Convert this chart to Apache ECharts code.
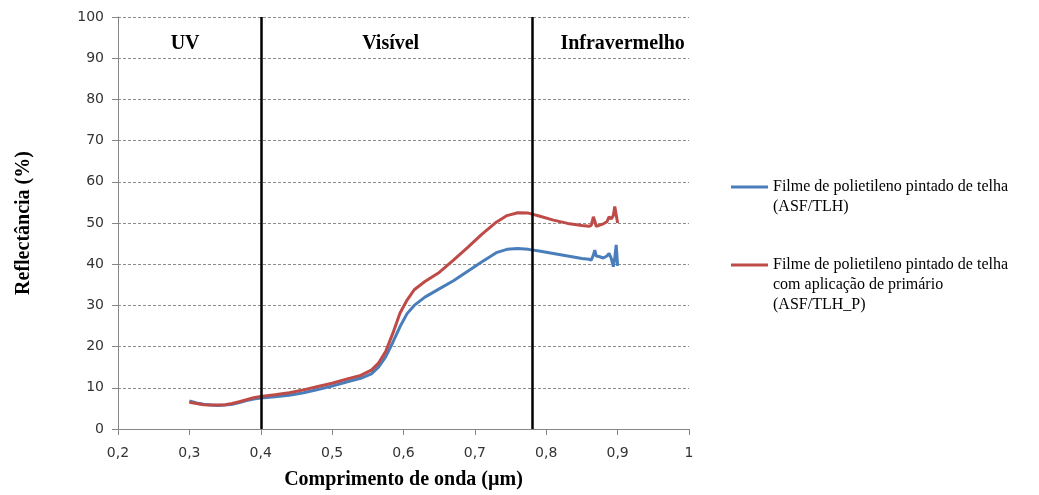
<!DOCTYPE html>
<html>
<head>
<meta charset="utf-8">
<script src="https://cdn.jsdelivr.net/npm/echarts@6/dist/echarts.min.js"></script>
<style>html,body{margin:0;padding:0;background:#fff;}#c{width:1039px;height:495px;}</style>
</head>
<body>
<div id="c"></div>
<script>
// Wavelength (µm)
const wavelength = [0.300,0.310,0.320,0.330,0.340,0.350,0.360,0.370,0.380,0.390,0.400,0.420,0.440,0.460,0.480,0.500,0.520,0.540,0.555,0.565,0.575,0.585,0.595,0.605,0.615,0.630,0.650,0.670,0.690,0.710,0.730,0.745,0.760,0.775,0.790,0.810,0.830,0.850,0.860,0.863,0.866,0.868,0.870,0.875,0.880,0.885,0.888,0.891,0.894,0.896,0.898,0.900];
// Reflectância (%) - Filme de polietileno pintado de telha (ASF/TLH)
const asfTlh = [6.8,6.3,6.0,5.8,5.7,5.8,6.0,6.4,6.9,7.3,7.5,7.8,8.2,8.8,9.6,10.4,11.4,12.3,13.4,15.0,17.5,21.0,24.8,28.0,30.0,32.0,34.0,36.0,38.3,40.6,42.8,43.6,43.8,43.6,43.2,42.6,42.0,41.4,41.2,41.0,42.2,43.4,42.0,41.8,41.5,42.0,42.6,41.5,39.4,41.5,44.7,39.6];
// Reflectância (%) - com aplicação de primário (ASF/TLH_P)
const asfTlhP = [6.5,6.2,5.9,5.8,5.8,5.9,6.2,6.6,7.1,7.6,7.9,8.3,8.8,9.5,10.3,11.1,12.1,13.0,14.3,16.0,18.8,23.2,28.1,31.3,33.8,35.8,38.0,41.0,44.1,47.3,50.2,51.8,52.5,52.4,51.7,50.7,49.9,49.4,49.2,49.4,51.5,50.5,49.2,49.5,49.8,50.3,51.5,51.0,51.8,54.0,52.0,50.0];
const regionLines = [0.4, 0.78];
const regionNames = ['UV', 'Visível', 'Infravermelho'];
const regionLabelX = [0.294, 0.582, 0.907];
const seriesNames = [
  'Filme de polietileno pintado de telha\n(ASF/TLH)',
  'Filme de polietileno pintado de telha\ncom aplicação de primário\n(ASF/TLH_P)'
];

const chart = echarts.init(document.getElementById('c'));
const pair = (ys) => wavelength.map((x, i) => [x, ys[i]]);
const serif = 'Liberation Serif';
const sans = 'DejaVu Sans';

const option = {
  animation: false,
  backgroundColor: '#fff',
  grid: { left: 118, right: 350, top: 17, bottom: 66 },
  xAxis: {
    type: 'value', min: 0.2, max: 1, interval: 0.1,
    name: 'Comprimento de onda (µm)', nameLocation: 'middle', nameGap: 41,
    nameTextStyle: { fontFamily: serif, fontWeight: 'bold', fontSize: 20, color: '#000' },
    axisLine: { lineStyle: { color: '#868686', width: 1 } },
    axisTick: { show: true, length: 6, lineStyle: { color: '#868686' } },
    axisLabel: { fontFamily: sans, fontSize: 14, color: '#333', margin: 17,
      formatter: v => String(Math.round(v * 10) / 10).replace('.', ',') },
    splitLine: { show: false }
  },
  yAxis: {
    type: 'value', min: 0, max: 100, interval: 10,
    name: 'Reflectância (%)', nameLocation: 'middle', nameGap: 84,
    nameTextStyle: { fontFamily: serif, fontWeight: 'bold', fontSize: 20, color: '#000' },
    axisLine: { show: true, lineStyle: { color: '#868686', width: 1 } },
    axisTick: { show: true, length: 6, lineStyle: { color: '#868686' } },
    axisLabel: { fontFamily: sans, fontSize: 14, color: '#333', margin: 14 },
    splitLine: { show: true, lineStyle: { color: '#8c8c8c', type: [3, 2], width: 1 } }
  },
  legend: {
    orient: 'vertical', left: 731, top: 157, padding: 0, itemGap: -2,
    itemWidth: 37, itemHeight: 3, icon: 'rect',
    data: [
      { name: seriesNames[0] },
      { name: seriesNames[1] }
    ],
    formatter: name => name === seriesNames[0] ? ' \n' + name : ' \n \n' + name,
    textStyle: { fontFamily: serif, fontSize: 16, color: '#000', lineHeight: 20 }
  },
  series: [
    {
      name: seriesNames[0], type: 'line', data: pair(asfTlh), showSymbol: false,
      lineStyle: { color: '#4a7ebb', width: 3 }, itemStyle: { color: '#4a7ebb' },
      markLine: {
        silent: true, symbol: 'none', label: { show: false },
        lineStyle: { color: '#000', width: 2.5, type: 'solid' },
        data: regionLines.map(x => ({ xAxis: x }))
      }
    },
    {
      name: seriesNames[1], type: 'line', data: pair(asfTlhP), showSymbol: false,
      lineStyle: { color: '#be4b48', width: 3 }, itemStyle: { color: '#be4b48' }
    }
  ]
};
chart.setOption(option);

const gx = (x) => chart.convertToPixel({ gridIndex: 0 }, [x, 0])[0];
const gy = (y) => chart.convertToPixel({ gridIndex: 0 }, [0.2, y])[1];
chart.setOption({
  graphic: regionNames.map((t, i) => ({
    type: 'text', x: gx(regionLabelX[i]), y: gy(93.4),
    style: { text: t, fontFamily: serif, fontWeight: 'bold', fontSize: 20, fill: '#000',
      align: 'center', verticalAlign: 'middle' }
  }))
});
</script>
</body>
</html>
